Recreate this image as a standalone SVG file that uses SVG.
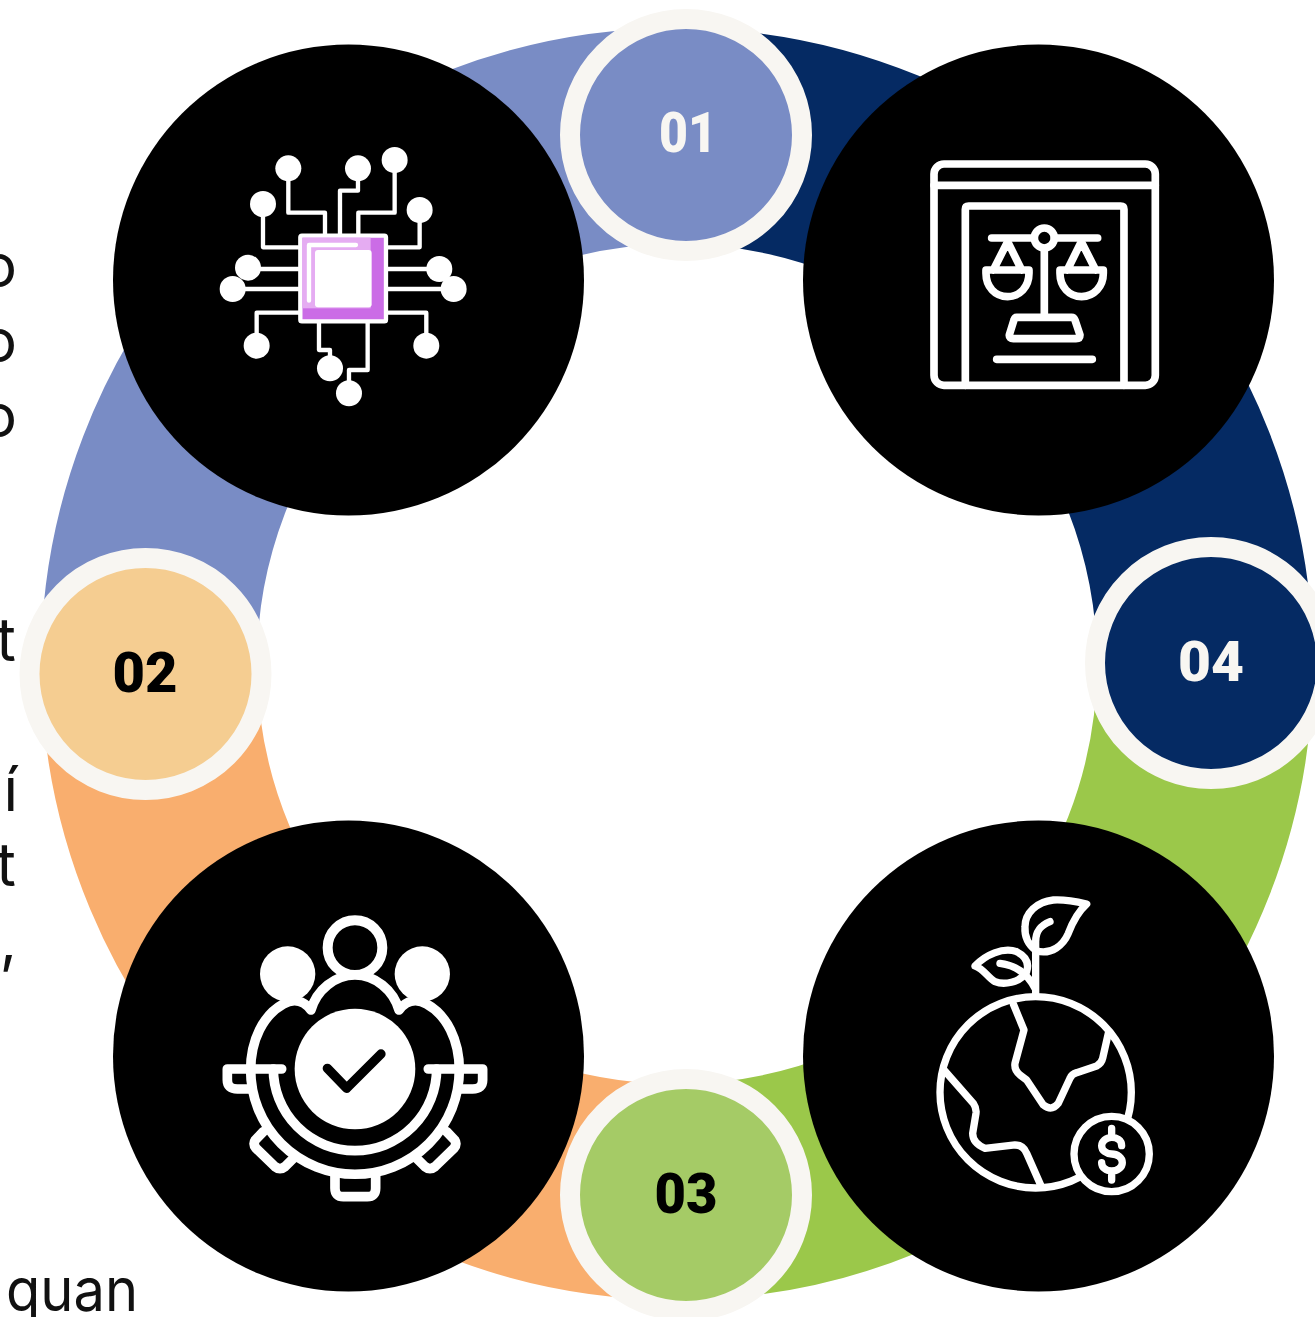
<svg xmlns="http://www.w3.org/2000/svg" width="1315" height="1317" viewBox="0 0 1315 1317">
<style>
.arc{fill:none;stroke-width:216}
.disc{fill:#000}
.badge{stroke:#F8F6F2;stroke-width:20}
.num{font-family:Roboto,"Liberation Sans",sans-serif;font-weight:900;font-size:55px;text-anchor:middle}
.side{font-family:Inter,Roboto,"Noto Sans",sans-serif;font-size:60px;font-weight:400;fill:#111;text-anchor:end}
.ln{fill:none;stroke:#fff;stroke-linecap:round;stroke-linejoin:round}
.dot{fill:#fff}
</style>
<rect width="1315" height="1317" fill="#fff"/>
<g id="side-text">
<text class="side" x="17" y="287">o</text>
<text class="side" x="17" y="362">o</text>
<text class="side" x="17" y="437">o</text>
<text class="side" x="16" y="661">t</text>
<text class="side" x="18" y="811">í</text>
<text class="side" x="16" y="886">t</text>
<text class="side" x="17" y="961">,</text>
<text class="side" x="138" y="1311" textLength="132" lengthAdjust="spacingAndGlyphs">quan</text>
</g>
<g id="connectors">
<path class="arc" stroke="#798CC5" d="M149.1 674A528 528 0 0 1 686 136.1"/>
<path class="arc" stroke="#052A63" d="M686 136.1A528 528 0 0 1 1205 663"/>
<path class="arc" stroke="#9BC84A" d="M1205 663A528 528 0 0 1 686 1191.9"/>
<path class="arc" stroke="#F9AE6E" d="M686 1191.9A528 528 0 0 1 149.1 674"/>
</g>
<g id="node-chip">
<circle class="disc" cx="348.500" cy="280" r="235.500"/>
<g transform="translate(200 130) scale(.3333)">
<path class="ln" stroke-width="13" d="M265 115V248H375V315M189 222V352H295M474 115V182H420V315M584 90V248H475V315M659 240V352H565M144 417H295M98 477H295M718 417H565M761 477H565M170 647V548H295M679 647V548H565M357 575V660H390V715M503 575V720H447V790"/>
<g class="dot"><circle cx="265" cy="115" r="39"/><circle cx="189" cy="222" r="39"/><circle cx="474" cy="115" r="39"/><circle cx="584" cy="90" r="39"/><circle cx="659" cy="240" r="39"/><circle cx="144" cy="413" r="39"/><circle cx="98" cy="477" r="39"/><circle cx="718" cy="417" r="39"/><circle cx="761" cy="477" r="39"/><circle cx="170" cy="647" r="39"/><circle cx="679" cy="647" r="39"/><circle cx="390" cy="715" r="39"/><circle cx="447" cy="790" r="39"/></g>
<rect x="301" y="317" width="257" height="257" rx="5" fill="#CB6CE6" stroke="#fff" stroke-width="13"/>
<rect x="307" y="323" width="205" height="212" fill="#E5ACF2"/>
<rect x="345" y="360" width="170" height="172" rx="9" fill="#fff"/>
<path class="ln" stroke-width="13" d="M327 512V345H468"/>
</g>
</g>
<g id="node-law">
<circle class="disc" cx="1038.500" cy="280" r="235.500"/>
<g transform="translate(910 140) scale(.3333)">
<g class="ln" stroke-width="23">
<rect x="72" y="72" width="664" height="664" rx="30"/>
<path d="M72 136H736M166 736V208Q166 198 176 198H632Q642 198 642 208V736"/>
<circle cx="403" cy="294" r="30"/>
<path d="M245 294H373M433 294H563M403 325V530M320 532H485Q492 532 495 540L510 585Q510 596 498 596H310Q297 596 298 585L312 540Q314 532 320 532ZM260 658H547"/>
<path d="M228 390H357V400C357 440 330 470 293 470C255 470 228 440 228 400ZM250 390L293 305L335 390M450 390H580V400C580 440 552 470 515 470C477 470 450 440 450 400ZM472 390L514 305L557 390"/>
</g>
</g>
</g>
<g id="node-team">
<circle class="disc" cx="348.500" cy="1056" r="235.500"/>
<g transform="translate(210 900) scale(.3333)">
<circle cx="435" cy="143" r="82" fill="none" stroke="#fff" stroke-width="30"/>
<circle class="dot" cx="233" cy="222" r="83"/><circle class="dot" cx="637" cy="222" r="83"/>
<path fill="#000" stroke="#000" stroke-width="14" d="M303 330C320 270 375 225 435 225C495 225 550 270 567 330C590 300 620 295 650 312C710 345 745 420 745 510H125C125 420 160 345 220 312C250 295 280 300 303 330Z"/>
<g class="ln" stroke-width="29">
<path d="M303 330C320 270 375 225 435 225C495 225 550 270 567 330M303 330C280 300 250 295 220 312C160 345 122 420 122 510A313 313 0 0 0 748 510C748 420 710 345 650 312C620 295 590 300 567 330"/>
<path d="M215 507H52V540Q52 567 82 567H118M655 507H818V540Q818 567 788 567H752"/>
<path d="M190 507A245 245 0 0 0 680 507"/>
<path d="M375 825V865Q375 890 400 890H472Q497 890 497 865V825"/>
<path d="M160 695L136 720Q128 732 138 745L195 800Q210 812 225 800L250 775M710 695L734 720Q742 732 732 745L675 800Q660 812 645 800L620 775"/>
</g>
<circle class="dot" cx="435" cy="507" r="181"/>
<path class="ln" style="stroke:#000" stroke-width="28" d="M352 505L410 565L513 462"/>
</g>
</g>
<g id="node-earth">
<circle class="disc" cx="1038.500" cy="1056" r="235.500"/>
<g transform="translate(920 880) scale(.3333)">
<g class="ln" stroke-width="22">
<circle cx="347" cy="637" r="287"/>
<path d="M280 372L312 450L285 550Q282 570 300 585L320 600L370 675Q395 695 415 670L450 595Q455 582 470 578L530 558Q545 550 548 535L565 460"/>
<path d="M72 570L160 670Q170 685 168 700L158 760Q158 790 195 805L285 795Q310 795 320 820L362 915"/>
<path d="M347 345V185C347 150 365 135 390 125"/>
<path d="M500 72C470 65 430 58 400 60C350 65 315 100 315 140C313 170 325 195 350 213C395 225 430 195 445 160C460 120 480 90 500 72Z"/>
<path d="M165 258C195 225 250 200 290 215C320 230 328 250 320 275C300 310 250 315 225 305C205 295 190 265 165 258Z"/>
<path d="M240 250C280 255 320 275 345 325"/>
</g>
<circle cx="575" cy="822" r="113" fill="#000" stroke="#fff" stroke-width="22"/>
<path class="ln" stroke-width="22" d="M605 797C605 780 590 772 575 772C558 772 545 785 545 797C545 812 560 822 575 822C592 822 607 832 607 848C607 862 592 873 575 873C558 873 545 862 545 848M575 745V772M575 873V900"/>
</g>
</g>
<g id="node-01"><circle class="badge" cx="686" cy="135" r="116" fill="#798CC5"/><text class="num" x="688" y="152" fill="#F8F6F2" textLength="58" lengthAdjust="spacingAndGlyphs">01</text></g>
<g id="node-02"><circle class="badge" cx="145.500" cy="674" r="116" fill="#F5CD91"/><text class="num" x="145" y="692" fill="#000" textLength="65" lengthAdjust="spacingAndGlyphs">02</text></g>
<g id="node-03"><circle class="badge" cx="686" cy="1195" r="116" fill="#A5CB66"/><text class="num" x="686" y="1213" fill="#000" textLength="63" lengthAdjust="spacingAndGlyphs">03</text></g>
<g id="node-04"><circle class="badge" cx="1211" cy="663" r="116" fill="#052A63"/><text class="num" x="1211" y="681" fill="#F8F6F2" textLength="66" lengthAdjust="spacingAndGlyphs">04</text></g>
</svg>
